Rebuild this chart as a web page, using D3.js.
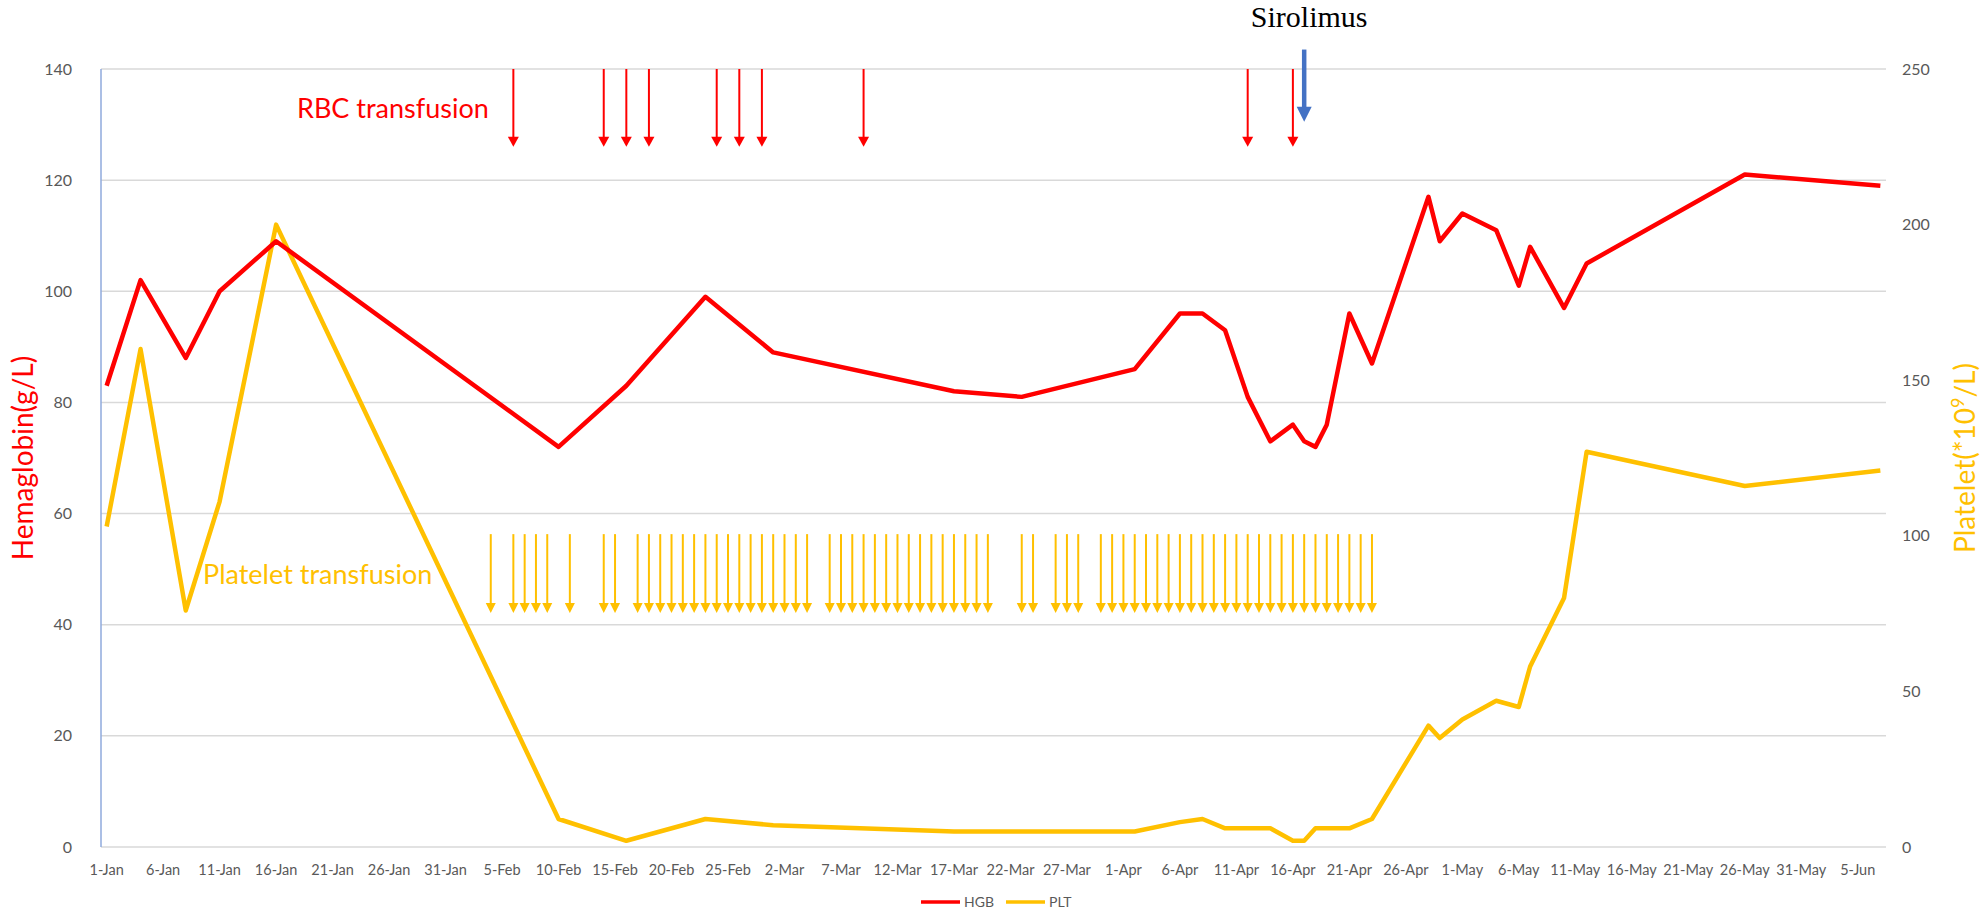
<!DOCTYPE html>
<html>
<head>
<meta charset="utf-8">
<script src="https://cdn.jsdelivr.net/npm/d3@7"></script>
<style>
  body { margin: 0; background: #fff; }
  svg text { font-family: Lato, "Open Sans", sans-serif; }
</style>
</head>
<body>
<div id="chart"></div>
<script>
(() => {
"use strict";

const WIDTH = 1984, HEIGHT = 912;

// lab dates, shared by both series
const dates = [
  "2019-01-01", "2019-01-04", "2019-01-08", "2019-01-11", "2019-01-16",
  "2019-02-10", "2019-02-16", "2019-02-23", "2019-03-01", "2019-03-17",
  "2019-03-23", "2019-04-02", "2019-04-06", "2019-04-08", "2019-04-10",
  "2019-04-12", "2019-04-14", "2019-04-16", "2019-04-17", "2019-04-18",
  "2019-04-19", "2019-04-21", "2019-04-23", "2019-04-28", "2019-04-29",
  "2019-05-01", "2019-05-04", "2019-05-06", "2019-05-07", "2019-05-10",
  "2019-05-12", "2019-05-26", "2019-06-07"
];
const hgb = [83, 102, 88, 100, 109, 72, 83, 99, 89, 82, 81, 86, 96, 96, 93, 81, 73,
  76, 73, 72, 76, 96, 87, 117, 109, 114, 111, 101, 108, 97, 105, 121, 119];
const plt = [103, 160, 76, 111, 200, 9, 2, 9, 7, 5, 5, 5, 8, 9, 6, 6, 6,
  2, 2, 6, 6, 6, 9, 39, 35, 41, 47, 45, 58, 80, 127, 116, 121];

const rbcTransfusions = [
  "2019-02-06", "2019-02-14", "2019-02-16", "2019-02-18", "2019-02-24",
  "2019-02-26", "2019-02-28", "2019-03-09", "2019-04-12", "2019-04-16"
];
const pltTransfusions = [
  "2019-02-04",
  "2019-02-06", "2019-02-07", "2019-02-08", "2019-02-09",
  "2019-02-11",
  "2019-02-14", "2019-02-15",
  "2019-02-17", "2019-02-18", "2019-02-19", "2019-02-20", "2019-02-21", "2019-02-22",
  "2019-02-23", "2019-02-24", "2019-02-25", "2019-02-26", "2019-02-27", "2019-02-28",
  "2019-03-01", "2019-03-02", "2019-03-03", "2019-03-04",
  "2019-03-06", "2019-03-07", "2019-03-08", "2019-03-09", "2019-03-10", "2019-03-11",
  "2019-03-12", "2019-03-13", "2019-03-14", "2019-03-15", "2019-03-16", "2019-03-17",
  "2019-03-18", "2019-03-19", "2019-03-20",
  "2019-03-23", "2019-03-24",
  "2019-03-26", "2019-03-27", "2019-03-28",
  "2019-03-30", "2019-03-31", "2019-04-01", "2019-04-02", "2019-04-03", "2019-04-04",
  "2019-04-05", "2019-04-06", "2019-04-07", "2019-04-08", "2019-04-09", "2019-04-10",
  "2019-04-11", "2019-04-12", "2019-04-13", "2019-04-14", "2019-04-15", "2019-04-16",
  "2019-04-17", "2019-04-18", "2019-04-19", "2019-04-20", "2019-04-21", "2019-04-22",
  "2019-04-23"
];
const sirolimusStart = "2019-04-17";

const hgbTicks = [0, 20, 40, 60, 80, 100, 120, 140];
const pltTicks = [0, 50, 100, 150, 200, 250];
const seriesNames = ["HGB", "PLT"];

const RED = "#FF0000", GOLD = "#FFC000", BLUE = "#4472C4", GREY = "#595959";

let parse = d3.timeParse("%Y-%m-%d");

let svg = d3.select("#chart").append("svg")
  .attr("width", WIDTH)
  .attr("height", HEIGHT);

let xScale = d3.scaleTime()
  .domain([new Date(2018, 11, 31, 12), new Date(2019, 5, 7, 12)])
  .range([101, 1886]);
let yLeft = d3.scaleLinear()
  .domain([0, 140])
  .range([847, 69]);
let yRight = d3.scaleLinear()
  .domain([0, 250])
  .range([847, 69]);

//////////
// Axes //
//////////

svg.append("g")
  .selectAll("line")
  .data(hgbTicks)
  .join("line")
  .attr("x1", xScale.range()[0])
  .attr("x2", xScale.range()[1])
  .attr("y1", d => yLeft(d))
  .attr("y2", d => yLeft(d))
  .attr("stroke", "#D9D9D9")
  .attr("stroke-width", 1.5);

svg.append("line")
  .attr("x1", xScale.range()[0]).attr("x2", xScale.range()[0])
  .attr("y1", yLeft(0)).attr("y2", yLeft(140))
  .attr("stroke", "#8FAADC")
  .attr("stroke-width", 1.5);

svg.append("g")
  .selectAll("text")
  .data(hgbTicks)
  .join("text")
  .attr("x", 72)
  .attr("y", d => yLeft(d))
  .attr("dy", "0.35em")
  .attr("text-anchor", "end")
  .attr("font-size", 16)
  .attr("fill", GREY)
  .text(d => d);

svg.append("g")
  .selectAll("text")
  .data(pltTicks)
  .join("text")
  .attr("x", 1902)
  .attr("y", d => yRight(d))
  .attr("dy", "0.35em")
  .attr("font-size", 16)
  .attr("fill", GREY)
  .text(d => d);

let xTicks = d3.timeDay.range(new Date(2019, 0, 1), new Date(2019, 5, 8), 5);
let fmt = d3.timeFormat("%-d-%b");
svg.append("g")
  .selectAll("text")
  .data(xTicks)
  .join("text")
  .attr("x", d => xScale(d))
  .attr("y", 875)
  .attr("text-anchor", "middle")
  .attr("font-size", 14.5)
  .attr("fill", GREY)
  .text(d => fmt(d));

svg.append("text")
  .attr("transform", "translate(33," + yLeft(70) + ") rotate(-90)")
  .attr("text-anchor", "middle")
  .attr("font-size", 28)
  .attr("fill", RED)
  .text("Hemaglobin(g/L)");

let rightTitle = svg.append("text")
  .attr("transform", "translate(1975," + yRight(125) + ") rotate(-90)")
  .attr("text-anchor", "middle")
  .attr("font-size", 28)
  .attr("fill", GOLD);
rightTitle.append("tspan").text("Platelet(*10");
rightTitle.append("tspan").attr("font-size", 18).attr("dy", -11).text("9");
rightTitle.append("tspan").attr("dy", 11).text("/L)");

////////////
// Series //
////////////

let hgbData = dates.map((d, i) => ({ date: parse(d), value: hgb[i] }));
let pltData = dates.map((d, i) => ({ date: parse(d), value: plt[i] }));

svg.append("path")
  .datum(pltData)
  .attr("fill", "none")
  .attr("stroke", GOLD)
  .attr("stroke-width", 4.5)
  .attr("stroke-linejoin", "round")
  .attr("d", d3.line().x(d => xScale(d.date)).y(d => yRight(d.value)));

svg.append("path")
  .datum(hgbData)
  .attr("fill", "none")
  .attr("stroke", RED)
  .attr("stroke-width", 4.5)
  .attr("stroke-linejoin", "round")
  .attr("d", d3.line().x(d => xScale(d.date)).y(d => yLeft(d.value)));

/////////////////
// Annotations //
/////////////////

let arrows = function(data, top, tip, opts) {
  let g = svg.append("g");
  g.selectAll("line")
    .data(data)
    .join("line")
    .attr("x1", d => xScale(parse(d)))
    .attr("x2", d => xScale(parse(d)))
    .attr("y1", yLeft(top))
    .attr("y2", yLeft(tip) - opts.headH + 2)
    .attr("stroke", opts.color)
    .attr("stroke-width", opts.stroke);
  g.selectAll("path")
    .data(data)
    .join("path")
    .attr("fill", opts.color)
    .attr("d", d => {
      let x = xScale(parse(d)), y = yLeft(tip);
      return "M" + (x - opts.headW / 2) + "," + (y - opts.headH) +
        "L" + (x + opts.headW / 2) + "," + (y - opts.headH) +
        "L" + x + "," + y + "Z";
    });
};

arrows(rbcTransfusions, 140, 126, { color: RED, stroke: 2, headW: 11, headH: 10 });
arrows(pltTransfusions, 56.3, 42.1, { color: GOLD, stroke: 2, headW: 10, headH: 10 });
arrows([sirolimusStart], 143.5, 130.5, { color: BLUE, stroke: 4.5, headW: 15, headH: 15 });

svg.append("text")
  .attr("x", 297)
  .attr("y", 118)
  .attr("font-size", 27)
  .attr("fill", RED)
  .text("RBC transfusion");

svg.append("text")
  .attr("x", 203)
  .attr("y", 584)
  .attr("font-size", 27)
  .attr("fill", GOLD)
  .text("Platelet transfusion");

svg.append("text")
  .attr("x", xScale(parse(sirolimusStart)) + 5)
  .attr("y", 27)
  .attr("text-anchor", "middle")
  .attr("font-size", 30)
  .style("font-family", "'Liberation Serif', 'Times New Roman', serif")
  .attr("fill", "#000")
  .text("Sirolimus");

////////////
// Legend //
////////////

let legend = svg.append("g")
  .selectAll("g")
  .data(seriesNames)
  .join("g")
  .attr("transform", (d, i) => "translate(" + (921 + i * 85) + ",902)");
legend.append("line")
  .attr("x1", 0).attr("x2", 39)
  .attr("stroke", (d, i) => i === 0 ? RED : GOLD)
  .attr("stroke-width", 3.5);
legend.append("text")
  .attr("x", 43)
  .attr("dy", "0.35em")
  .attr("font-size", 14)
  .attr("fill", GREY)
  .text(d => d);
})();
</script>
</body>
</html>
